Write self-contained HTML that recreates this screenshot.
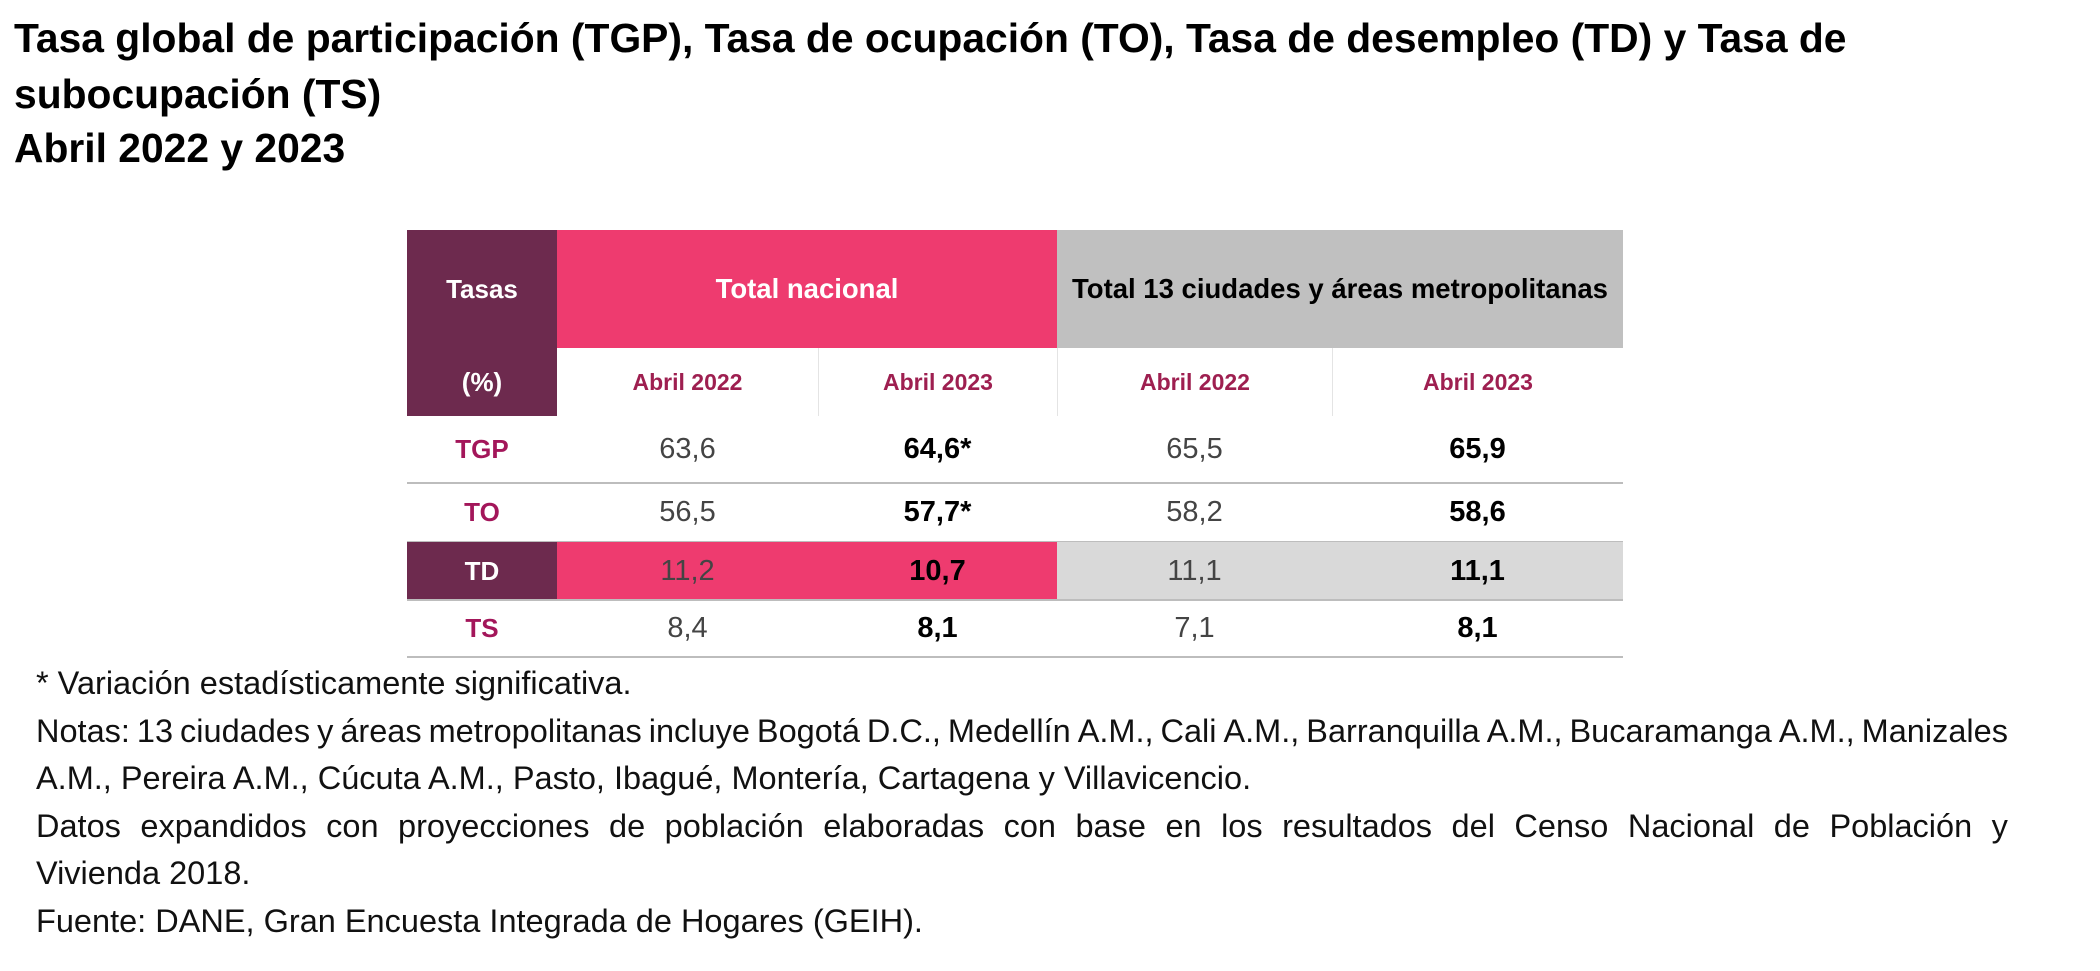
<!DOCTYPE html>
<html><head><meta charset="utf-8"><style>
body{margin:0;width:2100px;height:971px;background:#fff;position:relative;overflow:hidden;font-family:"Liberation Sans",sans-serif;}
.t{position:absolute;left:14px;font-weight:bold;font-size:40.8px;color:#000;white-space:nowrap;}
.c{position:absolute;display:flex;align-items:center;justify-content:center;font-size:24px;box-sizing:border-box;}
.n{position:absolute;left:36px;width:1972px;font-size:32.5px;color:#111;white-space:nowrap;}
.j{display:flex;justify-content:space-between;}
</style></head><body>
<div class="t" style="top:15px">Tasa global de participación (TGP), Tasa de ocupación (TO), Tasa de desempleo (TD) y Tasa de</div>
<div class="t" style="top:71px">subocupación (TS)</div>
<div class="t" style="top:125px">Abril 2022 y 2023</div>
<div id="tbl"></div>
<div class="n" style="top:665px">* Variación estadísticamente significativa.</div>
<div class="n j" id="j1" style="top:713px">Notas: 13 ciudades y áreas metropolitanas incluye Bogotá D.C., Medellín A.M., Cali A.M., Barranquilla A.M., Bucaramanga A.M., Manizales</div>
<div class="n" style="top:760px">A.M., Pereira A.M., Cúcuta A.M., Pasto, Ibagué, Montería, Cartagena y Villavicencio.</div>
<div class="n j" id="j2" style="top:808px">Datos expandidos con proyecciones de población elaboradas con base en los resultados del Censo Nacional de Población y</div>
<div class="n" style="top:855px">Vivienda 2018.</div>
<div class="n" style="top:903px">Fuente: DANE, Gran Encuesta Integrada de Hogares (GEIH).</div>
<script>
for(const id of ['j1','j2']){
 const el=document.getElementById(id);
 const words=el.textContent.split(' ');
 el.textContent='';
 for(const w of words){const s=document.createElement('span');s.textContent=w;el.appendChild(s);}
 let fs=32.5;
 while(el.scrollWidth>1972&&fs>20){fs-=0.5;el.style.fontSize=fs+'px';}
}
const rates=['TGP','TO','TD','TS'];
const nat2022=['63,6','56,5','11,2','8,4'];
const nat2023=['64,6*','57,7*','10,7','8,1'];
const c13_2022=['65,5','58,2','11,1','7,1'];
const c13_2023=['65,9','58,6','11,1','8,1'];
const colX=[407,557,818,1057,1332,1623];
const rowY=[230,348,416,483,542,600,657];
const tbl=document.getElementById('tbl');
function cell(x,y,w,h,txt,st,name){
 const d=document.createElement('div');d.className='c';
 d.style.cssText+=`left:${x}px;top:${y}px;width:${w}px;height:${h}px;`+st;
 d.textContent=txt;
 
 
 tbl.appendChild(d);return d;}
cell(407,230,150,186,'','background:#6d2a4e','tasas-header-bg');
cell(407,230,150,118,'Tasas','color:#fff;font-weight:bold;font-size:26px','tasas-header');
cell(407,348,150,68,'(%)','color:#fff;font-weight:bold;font-size:26px','percent-header');
cell(557,230,500,118,'Total nacional','background:#ee3b6f;color:#fff;font-weight:bold;font-size:27.5px','total-nacional-header');
cell(1057,230,566,118,'Total 13 ciudades y áreas metropolitanas','background:#c0c0c0;color:#000;font-weight:bold;font-size:27.5px;white-space:nowrap','total-13-ciudades-header');
const sub=['Abril 2022','Abril 2023','Abril 2022','Abril 2023'];
for(let i=0;i<4;i++){
 cell(colX[i+1],348,colX[i+2]-colX[i+1],68,sub[i],'color:#9e1f50;font-weight:bold;font-size:23px;'+(i>0?'border-left:1px solid #e4e4e4':''),'year-subheader');
}
const cols=[nat2022,nat2023,c13_2022,c13_2023];
for(let r=0;r<rates.length;r++){
 const y=rowY[r+2],h=rowY[r+3]-y,td=rates[r]==='TD';
 cell(407,y,150,h,rates[r],(td?'background:#6d2a4e;color:#fff;':'color:#a3165a;')+'font-weight:bold;font-size:26px','rate-label');
 for(let c=0;c<4;c++){
  let bg=td?(c<2?'background:#ee3b6f;':'background:#d9d9d9;'):'';
  let st=bg+(c%2?'font-weight:bold;color:#000;':'color:#444;')+'font-size:29px;';
  cell(colX[c+1],y,colX[c+2]-colX[c+1],h,cols[c][r],st,'rate-value');
 }
 const ln=document.createElement('div');
 ln.style.cssText=`position:absolute;left:407px;width:1216px;top:${rowY[r+3]-1}px;height:2px;background:#bdbdbd`;
 
 
 tbl.appendChild(ln);
}
</script>
</body></html>
